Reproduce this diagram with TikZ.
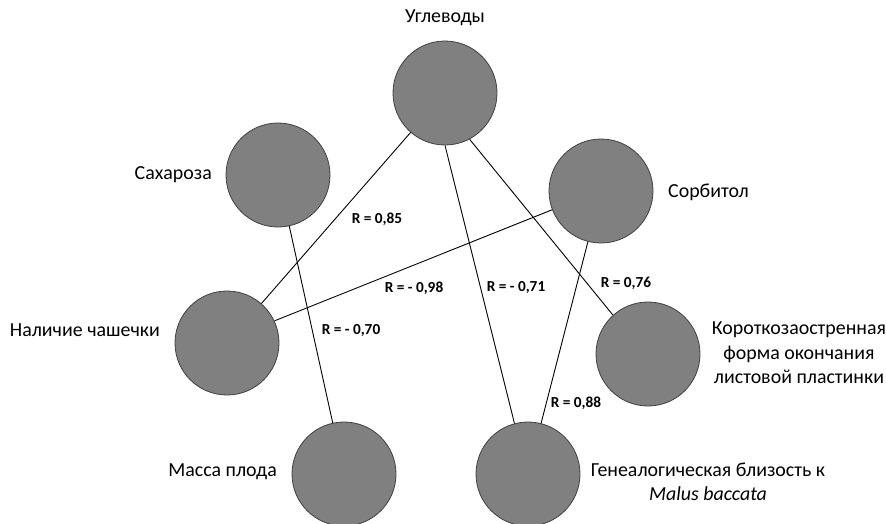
\documentclass[tikz,border=0pt]{standalone}
\usepackage{fontspec}
\setmainfont{Carlito}
\begin{document}
\begin{tikzpicture}[x=1pt,y=1pt,
  ball/.style={circle,draw=black!75,line width=0.8pt,fill=ballgray,minimum size=104pt,inner sep=0pt},
  lbl/.style={font=\fontsize{19.9}{24.5}\selectfont,inner sep=0pt,align=center},
  rlbl/.style={font=\fontsize{15.3}{17}\selectfont\bfseries,inner sep=0pt},
  link/.style={draw=black,line width=0.9pt}]
\definecolor{ballgray}{RGB}{128,128,128}
\useasboundingbox (0,0) rectangle (886,-523);
\clip (0,0) rectangle (886,-523);
\fill[white] (0,0) rectangle (886,-523);
% circles
\node[ball] (u) at (445,-93) {};
\node[ball] (sa) at (278,-175) {};
\node[ball] (so) at (601,-191) {};
\node[ball] (n) at (227,-343) {};
\node[ball] (k) at (648,-354) {};
\node[ball] (m) at (344,-474) {};
\node[ball] (g) at (528,-474) {};
% labels
\node[lbl] (tu) at (445,-18) {Углеводы};
\node[lbl,anchor=east] (tsa) at (212,-175) {Сахароза};
\node[lbl,anchor=west] (tso) at (668,-192) {Сорбитол};
\node[lbl,anchor=east] (tn) at (160,-330) {Наличие чашечки};
\node[lbl] (tk) at (799,-353) {Короткозаостренная\\форма окончания\\листовой пластинки};
\node[lbl,anchor=east] (tm) at (277,-472) {Масса плода};
\node[lbl] (tg) at (708,-482) {Генеалогическая близость к\\\textit{Malus baccata}};
% connectors
\draw[link] (u) -- (n);
\draw[link] (u.-90) -- (g.105);
\draw[link] (u.-62) -- (k.132);
\draw[link] (so.201) -- (n.25);
\draw[link] (so) -- (g);
\draw[link] (sa) -- (m);
% correlation labels
\node[rlbl] (r1) at (377,-219) {R = 0,85};
\node[rlbl] (r2) at (414,-288) {R = - 0,98};
\node[rlbl] (r3) at (516,-288) {R = - 0,71};
\node[rlbl] (r4) at (626,-283) {R = 0,76};
\node[rlbl] (r5) at (351,-331) {R = - 0,70};
\node[rlbl] (r6) at (576,-403) {R = 0,88};
\end{tikzpicture}
\end{document}
